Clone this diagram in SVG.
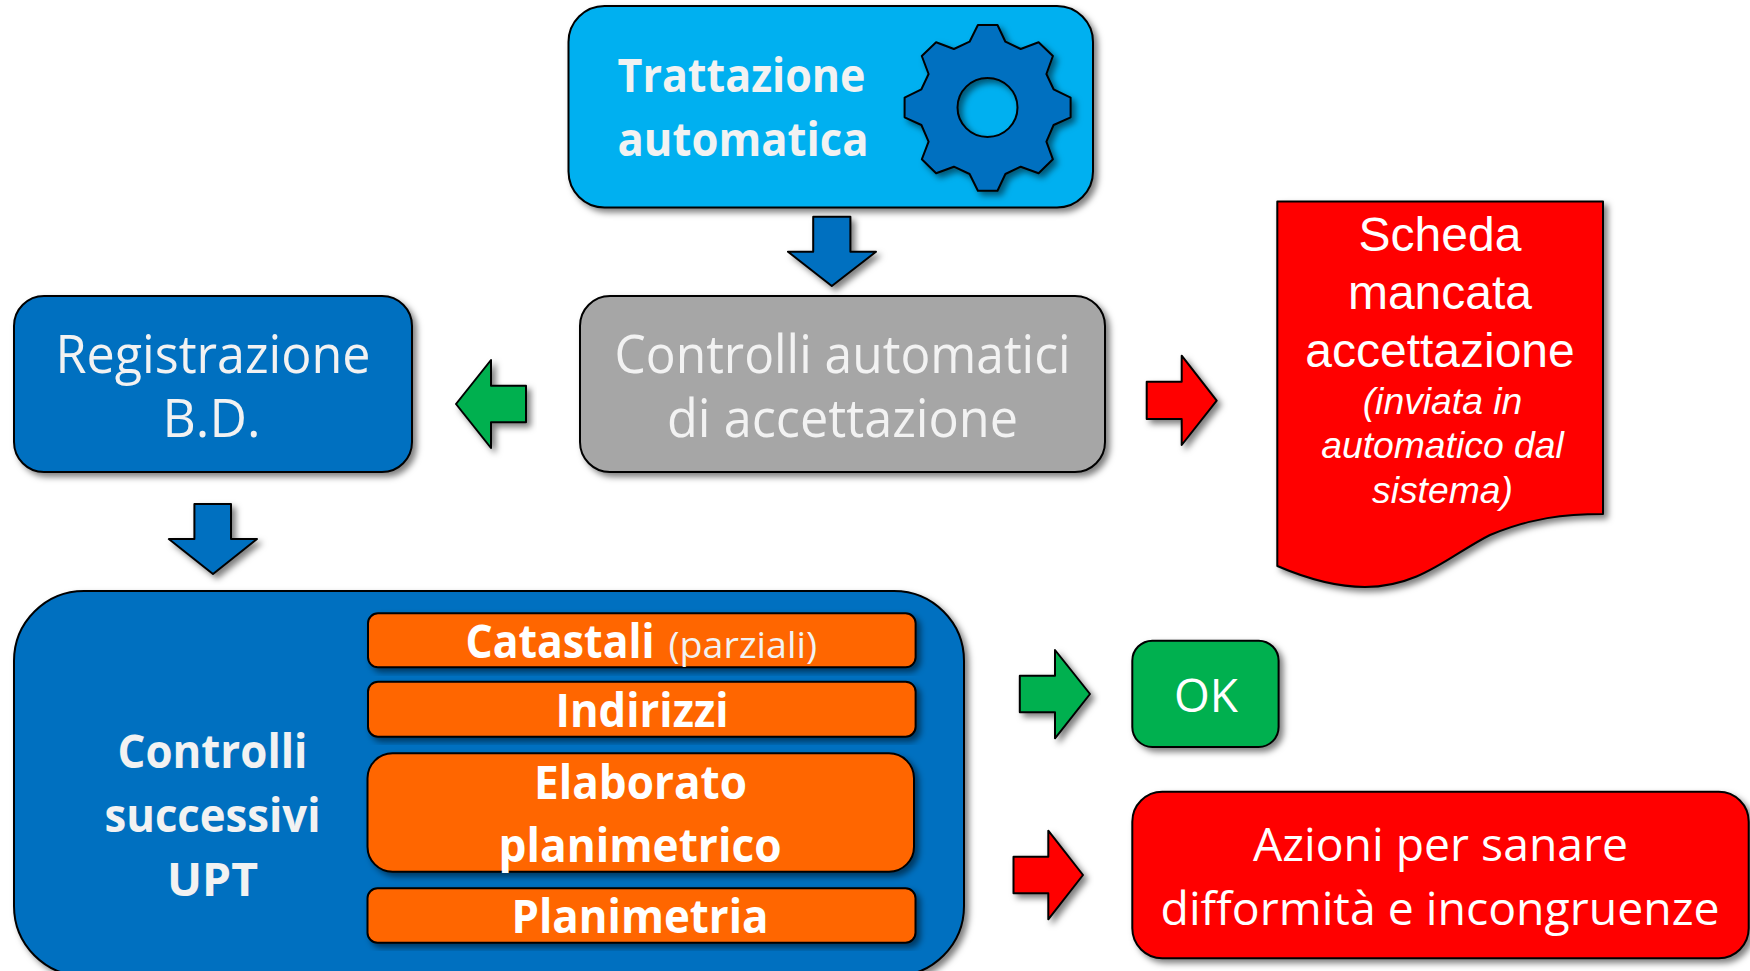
<svg xmlns="http://www.w3.org/2000/svg" width="1750" height="971" viewBox="0 0 1750 971">
<style>
.s{stroke:#000;stroke-width:2;stroke-linejoin:round;filter:url(#sh)}
.t{font-family:"Open Sans","Noto Sans","Liberation Sans",sans-serif;fill:#fff;font-size:46px;text-anchor:start}
.b{font-weight:700;fill:#f2f2f2}
.w{fill:#fff}
.l{font-size:53px;fill:#f2f2f2}
.p{font-size:36px;fill:#f2f2f2}
.a{font-family:"Liberation Sans",Arial,sans-serif;fill:#fff;text-anchor:middle}
.h{font-size:48px}
.i{font-size:37.300px;font-style:italic}
.blue{fill:#0070c0}.red{fill:#f00}.green{fill:#00b050}.orange{fill:#f60}
</style>
<defs>
<filter id="sh" x="-15%" y="-15%" width="130%" height="130%"><feDropShadow dx="4" dy="4" stdDeviation="3" flood-color="#000" flood-opacity="0.5"/></filter>
</defs>
<g id="connectors">
<polygon class="s blue" points="813.2,216.7 850.4,216.7 850.4,251.7 876,251.7 831.8,286 788,251.7 813.2,251.7"/>
<polygon class="s green" points="526,385.700 491,385.700 491,360 456,404 491,448 491,422.300 526,422.300"/>
<polygon class="s red" points="1146.7,381.7 1181.7,381.7 1181.7,355.7 1216.7,400.7 1181.7,445 1181.7,419 1146.7,419"/>
<polygon class="s blue" points="194.400,504 231,504 231,539 257,539 213,574 168.800,539 194.400,539"/>
<polygon class="s green" points="1019.800,675.700 1055,675.700 1055,650 1090,694 1055,738.300 1055,712.300 1019.800,712.300"/>
<polygon class="s red" points="1013.500,856.700 1048.300,856.700 1048.300,830.700 1083,875 1048.300,919.300 1048.300,893.300 1013.500,893.300"/>
</g>
<g id="node-trattazione">
<rect class="s" x="568.500" y="6" width="524.500" height="201.500" rx="36" fill="#00b0f0"/>
<path class="s blue" fill-rule="evenodd" d="M977.900,25 L997.500,25 L1005.400,41.700 L1020.700,49 L1038.600,42.300 L1052.900,56 L1046.400,74 L1053.600,89.300 L1070.600,97.700 L1070.600,117.300 L1053.600,125 L1046.400,141.700 L1052.900,159.300 L1038.600,173.300 L1020.700,166.700 L1005.400,174 L997.500,190.700 L977.900,190.700 L969.600,174 L953.900,166.700 L936.100,173.300 L921.800,159.300 L928.600,141.700 L921.400,125 L904.600,117.300 L904.600,97.700 L921.400,89.300 L928.600,74 L921.800,56 L936.100,42.300 L953.900,49 L969.600,41.700 Z M1017.500,107.500 A30,29.500 0 1 0 957.500,107.500 A30,29.500 0 1 0 1017.500,107.500 Z"/>
<text class="t b" x="617.500" y="91.700" textLength="248" lengthAdjust="spacingAndGlyphs">Trattazione</text>
<text class="t b" x="617.500" y="155.700" textLength="251" lengthAdjust="spacingAndGlyphs">automatica</text>
</g>
<g id="node-controlli-automatici">
<rect class="s" x="580" y="296" width="525" height="176" rx="30" fill="#a6a6a6"/>
<text class="t l" x="614.500" y="372.700" textLength="456" lengthAdjust="spacingAndGlyphs">Controlli automatici</text>
<text class="t l" x="667" y="436.700" textLength="351" lengthAdjust="spacingAndGlyphs">di accettazione</text>
</g>
<g id="node-registrazione">
<rect class="s blue" x="14" y="296" width="398" height="176" rx="30"/>
<text class="t l" x="55.500" y="372.700" textLength="315" lengthAdjust="spacingAndGlyphs">Registrazione</text>
<text class="t l" x="162.500" y="436.700" textLength="98" lengthAdjust="spacingAndGlyphs">B.D.</text>
</g>
<g id="node-scheda">
<path class="s red" d="M1277.300,201.500 L1603,201.500 L1603,514 C1565,514 1530,518 1490,535 C1450,555 1420,587 1365,587 C1340,587 1310,580 1277.300,566 Z"/>
<text class="a h" x="1440" y="251">Scheda</text>
<text class="a h" x="1440" y="309">mancata</text>
<text class="a h" x="1440" y="366.700">accettazione</text>
<text class="a i" x="1442.500" y="413.500">(inviata in</text>
<text class="a i" x="1442.500" y="458">automatico dal</text>
<text class="a i" x="1442.500" y="502.500">sistema)</text>
</g>
<g id="node-controlli-successivi">
<rect class="s blue" x="14" y="591" width="950" height="385" rx="70"/>
<text class="t b" x="117.500" y="767.700" textLength="190" lengthAdjust="spacingAndGlyphs">Controlli</text>
<text class="t b" x="104.500" y="831.700" textLength="216" lengthAdjust="spacingAndGlyphs">successivi</text>
<text class="t b" x="167" y="895.500" textLength="91" lengthAdjust="spacingAndGlyphs">UPT</text>
</g>
<g id="node-catastali">
<rect class="s orange" x="368" y="613.300" width="547.600" height="54" rx="10"/>
<text class="t b w" x="465.500" y="658.300" textLength="189" lengthAdjust="spacingAndGlyphs">Catastali</text>
<text class="t p" x="668.500" y="658.300" textLength="148.500" lengthAdjust="spacingAndGlyphs">(parziali)</text>
</g>
<g id="node-indirizzi">
<rect class="s orange" x="368" y="681.700" width="547.600" height="55" rx="10"/>
<text class="t b w" x="555.500" y="726.700" textLength="173" lengthAdjust="spacingAndGlyphs">Indirizzi</text>
</g>
<g id="node-elaborato">
<rect class="s orange" x="367.500" y="753.300" width="546.500" height="118.400" rx="25"/>
<text class="t b w" x="534" y="798.500" textLength="213" lengthAdjust="spacingAndGlyphs">Elaborato</text>
<text class="t b w" x="498.500" y="862" textLength="283" lengthAdjust="spacingAndGlyphs">planimetrico</text>
</g>
<g id="node-planimetria">
<rect class="s orange" x="367.500" y="888.300" width="548" height="54.400" rx="10"/>
<text class="t b w" x="511.500" y="933.200" textLength="257" lengthAdjust="spacingAndGlyphs">Planimetria</text>
</g>
<g id="node-ok">
<rect class="s green" x="1132.300" y="640.700" width="146.300" height="106.300" rx="20"/>
<text class="t" x="1174" y="711.700" textLength="64" lengthAdjust="spacingAndGlyphs">OK</text>
</g>
<g id="node-azioni">
<rect class="s red" x="1132.300" y="791.700" width="616.400" height="166.600" rx="30"/>
<text class="t" x="1253" y="860.700" textLength="375" lengthAdjust="spacingAndGlyphs">Azioni per sanare</text>
<text class="t" x="1160.500" y="925" textLength="559" lengthAdjust="spacingAndGlyphs">difformità e incongruenze</text>
</g>
</svg>
